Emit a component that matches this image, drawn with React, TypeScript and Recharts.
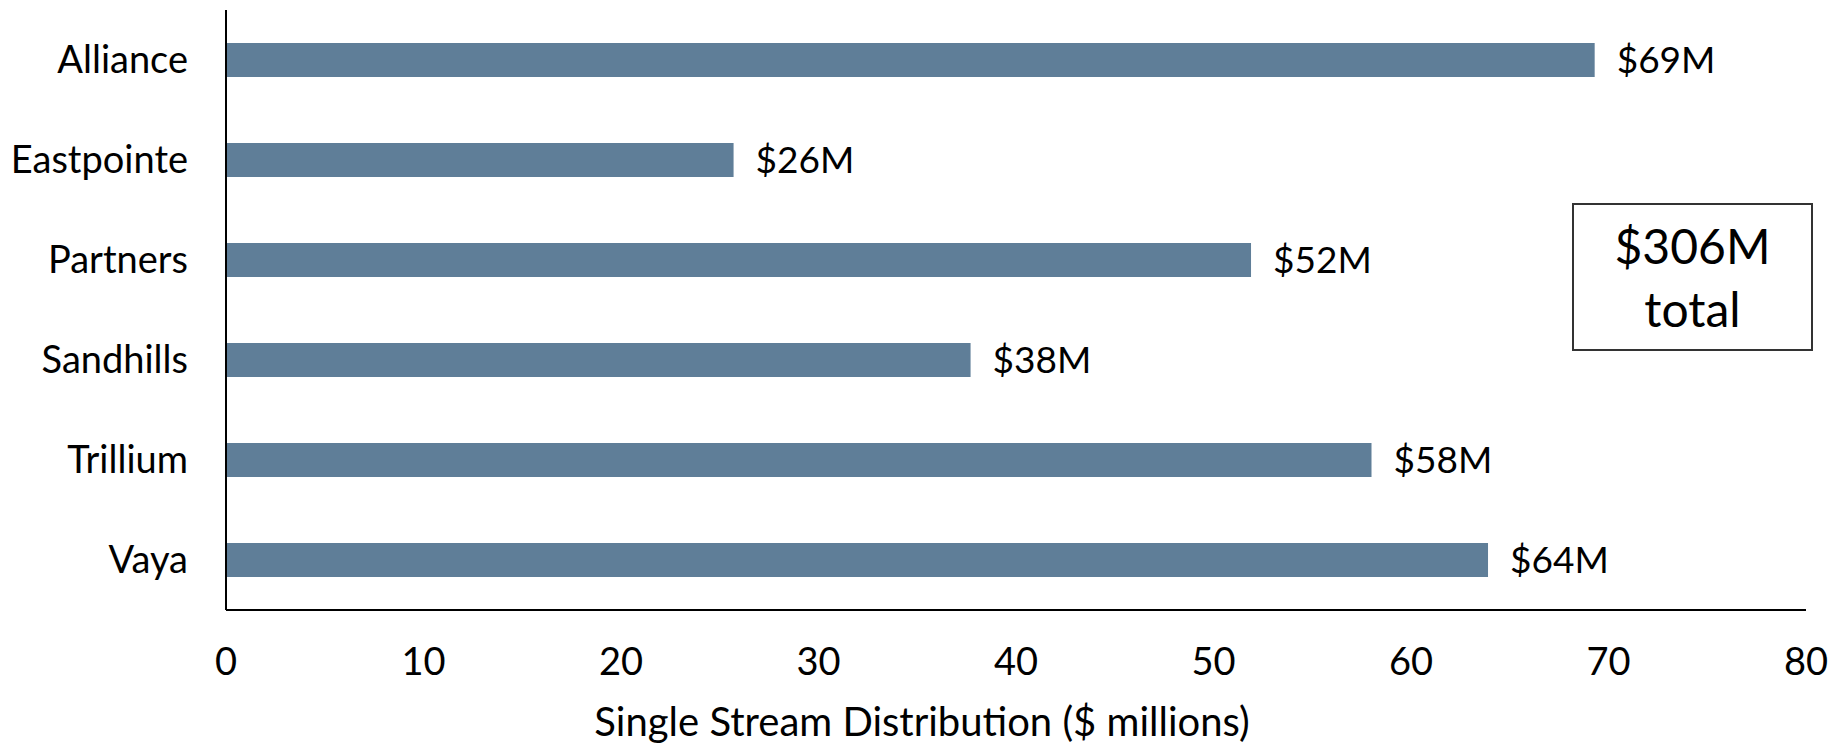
import { Bar, BarChart, LabelList, XAxis, YAxis } from "recharts";

const regions = ["Alliance", "Eastpointe", "Partners", "Sandhills", "Trillium", "Vaya"];
const distribution = [69.3, 25.7, 51.9, 37.7, 58.0, 63.9];
const xTicks = [0, 10, 20, 30, 40, 50, 60, 70, 80];
const totalLines = ["$306M", "total"];

const chartData = regions.map((name, i) => ({ name, value: distribution[i] }));

const FONT = "Lato, 'Open Sans', sans-serif";

const AxisTitle = ({ viewBox }: any) => {
  const { x, y, width } = viewBox;
  return (
    <text
      x={x + width / 2 - 94}
      y={y + 126}
      textAnchor="middle"
      fontSize={40}
      fontFamily={FONT}
      fill="#000"
    >
      Single Stream Distribution ($ millions)
    </text>
  );
};

export default function App() {
  return (
    <div style={{ position: "absolute", left: 0, top: 0, width: 1841, height: 748, background: "#fff" }}>
      <BarChart
        width={1841}
        height={748}
        data={chartData}
        layout="vertical"
        margin={{ top: 10, right: 35, bottom: 0, left: 0 }}
        barCategoryGap="67%"
      >
        <XAxis
          type="number"
          domain={[0, 80]}
          ticks={xTicks}
          height={138}
          tickSize={0}
          tickMargin={38}
          axisLine={{ stroke: "#000", strokeWidth: 2 }}
          tick={{ fill: "#000", fontSize: 38, fontFamily: FONT }}
          label={<AxisTitle />}
        />
        <YAxis
          type="category"
          dataKey="name"
          width={226}
          tickSize={0}
          tickMargin={38}
          axisLine={{ stroke: "#000", strokeWidth: 2 }}
          tick={{ fill: "#000", fontSize: 38, fontFamily: FONT }}
        />
        <Bar dataKey="value" fill="#5f7e98" isAnimationActive={false}>
          <LabelList
            dataKey="value"
            position="right"
            offset={22}
            fill="#000"
            fontSize={37}
            fontFamily={FONT}
            formatter={(v: any) => `$${Math.round(Number(v))}M`}
          />
        </Bar>
      </BarChart>
      <div
        style={{
          position: "absolute",
          left: 1572,
          top: 203,
          width: 237,
          height: 144,
          border: "2px solid #333",
          display: "flex",
          flexDirection: "column",
          alignItems: "center",
          justifyContent: "center",
          fontFamily: FONT,
          fontSize: 48,
          lineHeight: "63px",
          color: "#000",
        }}
      >
        {totalLines.map((line) => (
          <div key={line}>{line}</div>
        ))}
      </div>
    </div>
  );
}
